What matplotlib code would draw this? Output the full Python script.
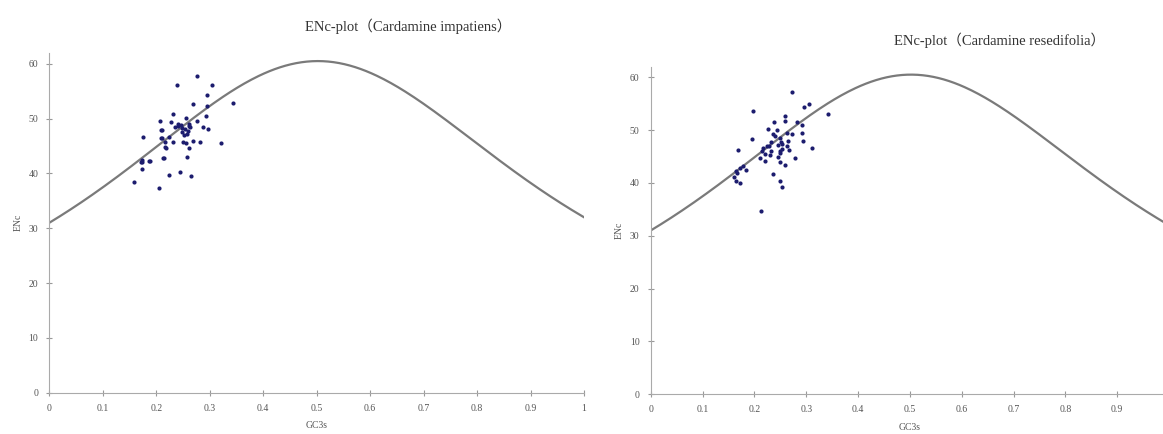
import numpy as np
import matplotlib.pyplot as plt

plt.rcParams['font.family'] = ['Liberation Serif', 'Noto Sans CJK SC', 'DejaVu Sans']

# GC3s / ENc of the genes, Cardamine impatiens
gc3_imp = [0.158, 0.205, 0.174, 0.174, 0.176, 0.188, 0.171, 0.207, 0.210, 0.208,
           0.214, 0.217, 0.224, 0.244, 0.265, 0.238, 0.276, 0.305, 0.295, 0.295,
           0.269, 0.344, 0.322, 0.231, 0.227, 0.241, 0.247, 0.256, 0.262, 0.254,
           0.260, 0.249, 0.257, 0.250, 0.255, 0.268, 0.282, 0.262, 0.258, 0.276,
           0.293, 0.287, 0.297, 0.224, 0.232, 0.235, 0.216, 0.211, 0.209, 0.240,
           0.262, 0.218, 0.212, 0.187, 0.173, 0.263, 0.248, 0.252]
enc_imp = [38.4, 37.3, 42.5, 40.8, 46.7, 42.3, 42.1, 49.6, 48.0, 46.5,
           42.8, 44.8, 39.8, 40.2, 39.6, 56.1, 57.8, 56.1, 54.3, 52.3,
           52.7, 52.8, 45.6, 50.9, 49.3, 49.0, 48.8, 50.2, 49.1, 48.1,
           47.8, 47.5, 47.2, 45.8, 45.6, 45.9, 45.8, 44.7, 43.0, 49.6,
           50.5, 48.5, 48.1, 46.7, 45.8, 48.4, 45.8, 46.5, 47.9, 48.6,
           48.6, 44.7, 42.8, 42.3, 42.0, 48.4, 48.3, 47.0]

# GC3s / ENc of the genes, Cardamine resedifolia
gc3_res = [0.273, 0.198, 0.296, 0.305, 0.343, 0.259, 0.259, 0.238, 0.282, 0.292,
           0.226, 0.243, 0.292, 0.272, 0.262, 0.235, 0.195, 0.249, 0.265, 0.294,
           0.232, 0.253, 0.228, 0.217, 0.253, 0.267, 0.233, 0.168, 0.214, 0.312,
           0.221, 0.249, 0.210, 0.230, 0.278, 0.221, 0.249, 0.259, 0.179, 0.172,
           0.165, 0.235, 0.161, 0.165, 0.172, 0.249, 0.254, 0.212, 0.245, 0.250,
           0.240, 0.184, 0.246, 0.251, 0.225, 0.262, 0.166]
enc_res = [57.3, 53.6, 54.4, 55.0, 53.1, 52.6, 51.8, 51.6, 51.6, 51.0,
           50.3, 50.1, 49.5, 49.2, 49.4, 49.2, 48.4, 48.5, 48.0, 48.0,
           47.7, 47.4, 47.0, 46.6, 46.4, 46.2, 46.1, 46.3, 46.0, 46.7,
           45.5, 45.6, 44.8, 45.2, 44.8, 44.1, 43.9, 43.4, 43.3, 42.9,
           42.3, 41.7, 41.1, 40.4, 39.9, 40.3, 39.3, 34.6, 47.2, 46.0,
           48.9, 42.5, 45.0, 47.8, 46.9, 47.0, 41.8]

titles = ["ENc-plot（Cardamine impatiens）", "ENc-plot（Cardamine resedifolia）"]
x_ticks = [0, 0.1, 0.2, 0.3, 0.4, 0.5, 0.6, 0.7, 0.8, 0.9, 1]
x_labels = ["0", "0.1", "0.2", "0.3", "0.4", "0.5", "0.6", "0.7", "0.8", "0.9", "1"]
y_ticks = [0, 10, 20, 30, 40, 50, 60]


def expected_enc(s):
    # Wright's expected ENc curve
    return 2 + s + 29 / (s ** 2 + (1 - s) ** 2)


fig = plt.figure(figsize=(11.63, 4.34), dpi=100)
ax1 = fig.add_axes([0.0424, 0.0952, 0.4598, 0.783])
ax2 = fig.add_axes([0.5595, 0.0915, 0.4457, 0.7548])

s = np.linspace(0, 1, 300)
for ax, gx, gy in [(ax1, gc3_imp, enc_imp), (ax2, gc3_res, enc_res)]:
    ax.plot(s, expected_enc(s), color='#7a7a7a', lw=1.6, zorder=2)
    ax.scatter(gx, gy, s=9, color='#1c1c6e', zorder=3, linewidths=0)
    ax.set_xlim(0, 1)
    ax.set_ylim(0, 62)
    ax.set_yticks(y_ticks)
    ax.spines['right'].set_visible(False)
    ax.spines['top'].set_visible(False)
    ax.spines['left'].set_color('#aaaaaa')
    ax.spines['bottom'].set_color('#aaaaaa')
    ax.tick_params(direction='inout', length=4, width=0.8, color='#999999',
                   labelsize=7, labelcolor='#555555', pad=6)
    ax.set_xlabel("GC3s", fontsize=7, color='#555555', labelpad=6)
    ax.set_ylabel("ENc", fontsize=7, color='#555555', labelpad=4)

ax1.set_xticks(x_ticks)
ax1.set_xticklabels(x_labels)
# the right panel runs off the picture before x = 1
ax2.set_xticks(x_ticks[:-1])
ax2.set_xticklabels(x_labels[:-1])

fig.text(408 / 1163, 1 - 26 / 434, titles[0], fontsize=10.5, color='#333333',
         ha='center', va='center')
fig.text(1000 / 1163, 1 - 40 / 434, titles[1], fontsize=10.5, color='#333333',
         ha='center', va='center')

plt.savefig("out.png", dpi=100)
